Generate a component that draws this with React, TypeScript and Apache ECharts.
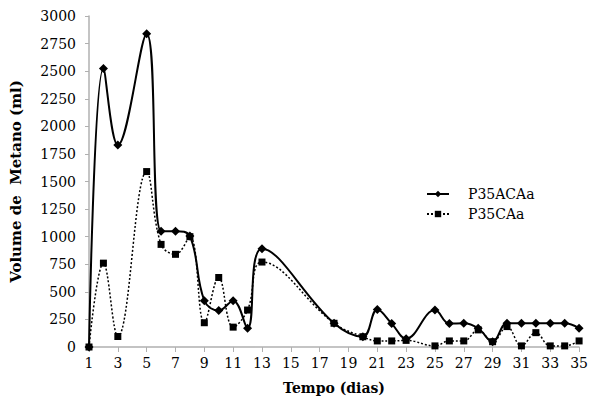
import React, { useEffect, useRef } from "react";
import * as echarts from "echarts";

const days = [1, 2, 3, 5, 6, 7, 8, 9, 10, 11, 12, 13, 18, 20, 21, 22, 23, 25, 26, 27, 28, 29, 30, 31, 32, 33, 34, 35];
const p35ACAa = [0, 2525, 1830, 2840, 1050, 1050, 1005, 420, 330, 420, 170, 890, 215, 93, 340, 212, 75, 335, 212, 215, 170, 48, 215, 215, 215, 215, 215, 170];
const p35CAa = [0, 760, 95, 1590, 930, 840, 1000, 220, 630, 180, 335, 770, 215, 93, 55, 55, 60, 10, 55, 55, 155, 48, 185, 10, 130, 10, 10, 55];
const seriesNames = ["P35ACAa", "P35CAa"];

const FONT = "DejaVu Serif";

export default function App() {
  const ref = useRef<HTMLDivElement>(null);
  useEffect(() => {
    if (!ref.current) return;
    const chart = echarts.init(ref.current, undefined, { renderer: "svg" });
    const pairs = (ys: number[]) => days.map((d, i) => [d, ys[i]]);
    chart.setOption({
      animation: false,
      backgroundColor: "#ffffff",
      textStyle: { fontFamily: FONT, color: "#000" },
      grid: { left: 87, right: 8, top: 16, bottom: 54, containLabel: false },
      legend: {
        orient: "vertical",
        left: 421,
        top: 182,
        itemWidth: 22,
        itemHeight: 8,
        itemGap: 6,
        textStyle: { fontFamily: FONT, fontSize: 14, color: "#000", padding: [0, 0, 0, 14] },
        data: seriesNames,
      },
      xAxis: {
        type: "value",
        min: 1,
        max: 35,
        interval: 2,
        name: "Tempo (dias)",
        nameLocation: "middle",
        nameGap: 34,
        nameTextStyle: { fontFamily: FONT, fontSize: 14, fontWeight: "bold", color: "#000" },
        axisLine: { lineStyle: { color: "#b0b0b0", width: 1.5 } },
        axisTick: { show: true, length: 5, lineStyle: { color: "#b0b0b0" } },
        axisLabel: { fontFamily: FONT, fontSize: 14, color: "#000", margin: 9 },
        splitLine: { show: false },
      },
      yAxis: {
        type: "value",
        min: 0,
        max: 3000,
        interval: 250,
        name: "Volume de  Metano (ml)",
        nameLocation: "middle",
        nameGap: 66,
        nameTextStyle: { fontFamily: FONT, fontSize: 15, fontWeight: "bold", color: "#000" },
        axisLine: { show: true, lineStyle: { color: "#b0b0b0", width: 1.5 } },
        axisTick: { show: true, length: 4, lineStyle: { color: "#b0b0b0" } },
        axisLabel: { fontFamily: FONT, fontSize: 14, color: "#000", margin: 13, formatter: (v: number) => String(v) },
        splitLine: { show: false },
      },
      series: [
        {
          name: seriesNames[0],
          type: "line",
          data: pairs(p35ACAa),
          smooth: 0.4,
          symbol: "diamond",
          symbolSize: 9,
          itemStyle: { color: "#000" },
          lineStyle: { color: "#000", width: 2, type: "solid" },
          z: 3,
        },
        {
          name: seriesNames[1],
          type: "line",
          data: pairs(p35CAa),
          smooth: 0.4,
          symbol: "rect",
          symbolSize: 7,
          itemStyle: { color: "#000" },
          lineStyle: { color: "#000", width: 1.5, type: [2, 2] },
          z: 2,
        },
      ],
    });
    return () => chart.dispose();
  }, []);
  return <div ref={ref} style={{ width: 591, height: 401, position: "absolute", left: 0, top: 0 }} />;
}
